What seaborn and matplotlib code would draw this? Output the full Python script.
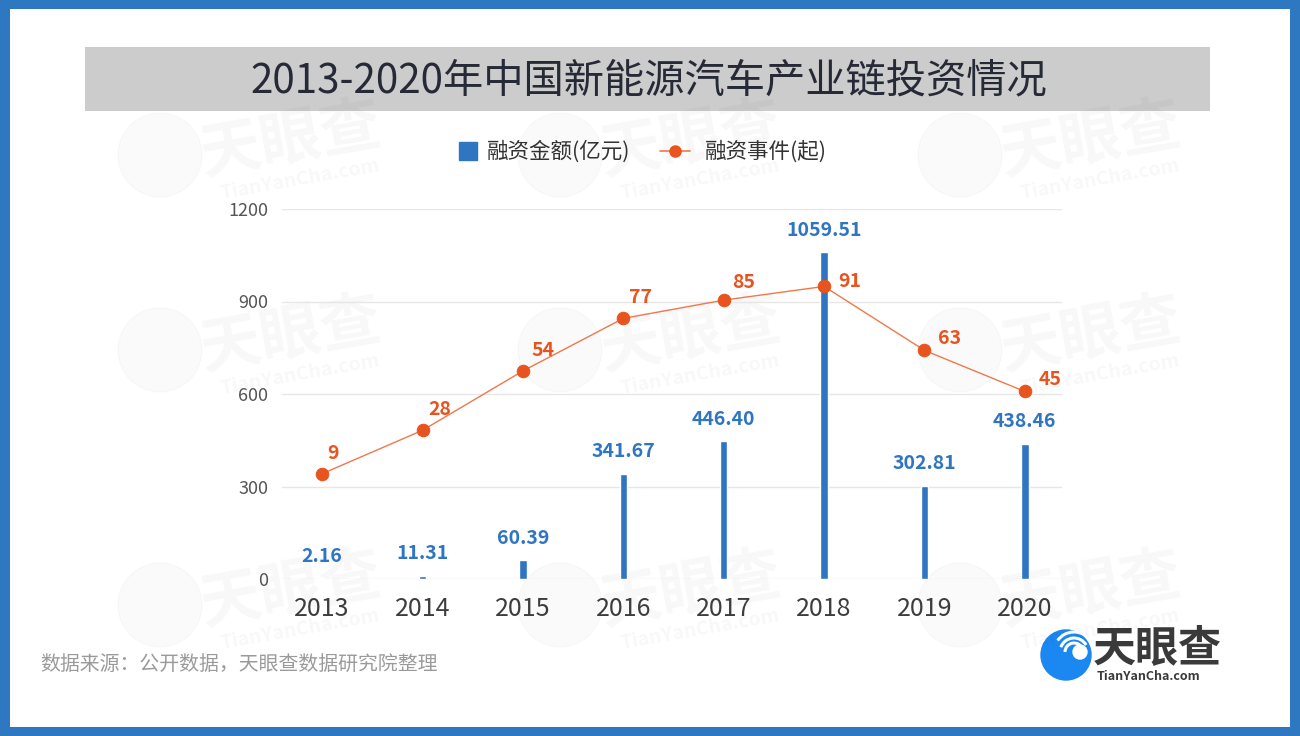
import numpy as np
import matplotlib
matplotlib.use("Agg")
import matplotlib.pyplot as plt
from matplotlib.patches import Rectangle, Circle, Arc
from matplotlib.lines import Line2D
import seaborn as sns

years = ["2013", "2014", "2015", "2016", "2017", "2018", "2019", "2020"]
amounts = [2.16, 11.31, 60.39, 341.67, 446.40, 1059.51, 302.81, 438.46]
amount_labels = ["2.16", "11.31", "60.39", "341.67", "446.40", "1059.51", "302.81", "438.46"]
events = [9, 28, 54, 77, 85, 91, 63, 45]
y_ticks = [0, 300, 600, 900, 1200]

title = "2013-2020年中国新能源汽车产业链投资情况"
legend_bar = "融资金额(亿元)"
legend_line = "融资事件(起)"
source = "数据来源：公开数据，天眼查数据研究院整理"

BLUE = "#2f75c1"
ORANGE = "#e8541f"
LINE_ORANGE = "#f0784a"

sns.set_theme(style="white")
FONT = ["Noto Sans CJK SC", "DejaVu Sans"]
plt.rcParams["font.family"] = FONT

W, H = 1300, 736
fig = plt.figure(figsize=(13, 7.36), dpi=100)
fig.patch.set_facecolor("#2e78c2")

def fx(px):
    return px / W

def fy(py):
    return 1 - py / H

# white inner panel
fig.patches.append(Rectangle((fx(10), fy(727)), fx(1280), 718 / H,
                             transform=fig.transFigure, facecolor="white",
                             edgecolor="none", zorder=-5))
# title band
fig.patches.append(Rectangle((fx(85), fy(111)), fx(1125), 64 / H,
                             transform=fig.transFigure, facecolor="#cccccc",
                             edgecolor="none", zorder=-4))
fig.text(fx(649), fy(81), title, ha="center", va="center", fontsize=29,
         color="#262a36", zorder=3)

# axes
ax = fig.add_axes([fx(282), fy(579), fx(780), 370 / H])
ax.set_facecolor("none")
sns.barplot(x=years, y=amounts, color=BLUE, width=0.075, saturation=1,
            ax=ax, zorder=3)
ax.set_xlim(-0.4, 7.37)
ax.set_ylim(0, 1200)
ax.set_yticks(y_ticks)
ax.set_yticklabels([str(t) for t in y_ticks])
ax.grid(axis="y", color="#e6e6e6", linewidth=1)
ax.grid(axis="x", visible=False)
ax.set_axisbelow(True)
for s in ax.spines.values():
    s.set_visible(False)
ax.tick_params(axis="y", length=0, pad=10, labelsize=13, labelcolor="#555555")
ax.tick_params(axis="x", length=0, pad=12, labelsize=18, labelcolor="#3d3d3d")
ax.set_xlabel("")
ax.set_ylabel("")

for i, (v, lab) in enumerate(zip(amounts, amount_labels)):
    ax.annotate(lab, (i, v), xytext=(0, 9), textcoords="offset points",
                ha="center", va="bottom", fontsize=14, fontweight="bold",
                color=BLUE, zorder=5)

ax2 = ax.twinx()
sns.lineplot(x=np.arange(len(years)), y=events, ax=ax2, color=LINE_ORANGE,
             linewidth=1, marker="o", markersize=9, markerfacecolor=ORANGE,
             markeredgecolor=ORANGE, zorder=4)
ax2.set_ylim(-37.1, 124.9)
ax2.set_xlim(-0.4, 7.37)
ax2.set_yticks([])
ax2.set_ylabel("")
for s in ax2.spines.values():
    s.set_visible(False)

label_offsets = [(4, 8), (4, 8), (6, 8), (4, 8), (6, 6), (10, -3), (10, 2), (10, 2)]
for i, (v, off) in enumerate(zip(events, label_offsets)):
    ax2.annotate(str(v), (i, v), xytext=off, textcoords="offset points",
                 ha="left", va="bottom", fontsize=14, fontweight="bold",
                 color=ORANGE, zorder=5)

# legend (two separate entries to match spacing)
h_bar = Line2D([], [], linestyle="none", marker="s", markersize=13,
               markerfacecolor=BLUE, markeredgecolor=BLUE)
h_line = Line2D([], [], color=LINE_ORANGE, linewidth=1.2, marker="o",
                markersize=8, markerfacecolor=ORANGE, markeredgecolor=ORANGE)
leg1 = fig.legend([h_bar], [legend_bar], loc="center left",
                  bbox_to_anchor=(fx(458), fy(152)), frameon=False,
                  fontsize=15.5, labelcolor="#333333", handlelength=0.93,
                  handletextpad=0.42, borderpad=0, borderaxespad=0)
leg2 = fig.legend([h_line], [legend_line], loc="center left",
                  bbox_to_anchor=(fx(660), fy(152)), frameon=False,
                  fontsize=15.5, labelcolor="#333333", handlelength=1.4,
                  handletextpad=0.7, borderpad=0, borderaxespad=0)

# source note
fig.text(fx(40), fy(664), source, ha="left", va="center", fontsize=14.3,
         color="#9a9a9a")

# logo
logo_ax = fig.add_axes([0, 0, 1, 1], facecolor="none", zorder=-1)
logo_ax.set_xlim(0, W)
logo_ax.set_ylim(H, 0)
logo_ax.set_aspect("equal")
logo_ax.axis("off")
logo_ax.add_patch(Circle((1066, 655), 25, color="#1a88f0", zorder=2))
for r, t1, t2 in ((14, 200, 330), (20, 215, 320), (9, 180, 340)):
    logo_ax.add_patch(Arc((1074, 652), 2 * r, 2 * r, theta1=t1, theta2=t2,
                          color="white", linewidth=2.2, zorder=3))
logo_ax.add_patch(Circle((1080, 652), 7, color="white", zorder=3))
logo_ax.text(1093, 648, "天眼查", ha="left", va="center", fontsize=31,
             fontweight="bold", color="#3a3a3a")
logo_ax.text(1097, 677, "TianYanCha.com", ha="left", va="center", fontsize=9,
             fontweight="bold", color="#3a3a3a")

# faint watermarks
for cx in (250, 650, 1050):
    for cy in (150, 345, 600):
        logo_ax.text(cx + 40, cy - 10, "天眼查", ha="center", va="center",
                     fontsize=44, fontweight="bold", color="#000000",
                     alpha=0.03, rotation=10)
        logo_ax.text(cx + 50, cy + 30, "TianYanCha.com", ha="center",
                     va="center", fontsize=14, fontweight="bold",
                     color="#000000", alpha=0.03, rotation=10)
        logo_ax.add_patch(Circle((cx - 90, cy + 5), 42, color="#000000",
                                 alpha=0.02, zorder=1))

fig.savefig("out.png", dpi=100, facecolor=fig.get_facecolor())
